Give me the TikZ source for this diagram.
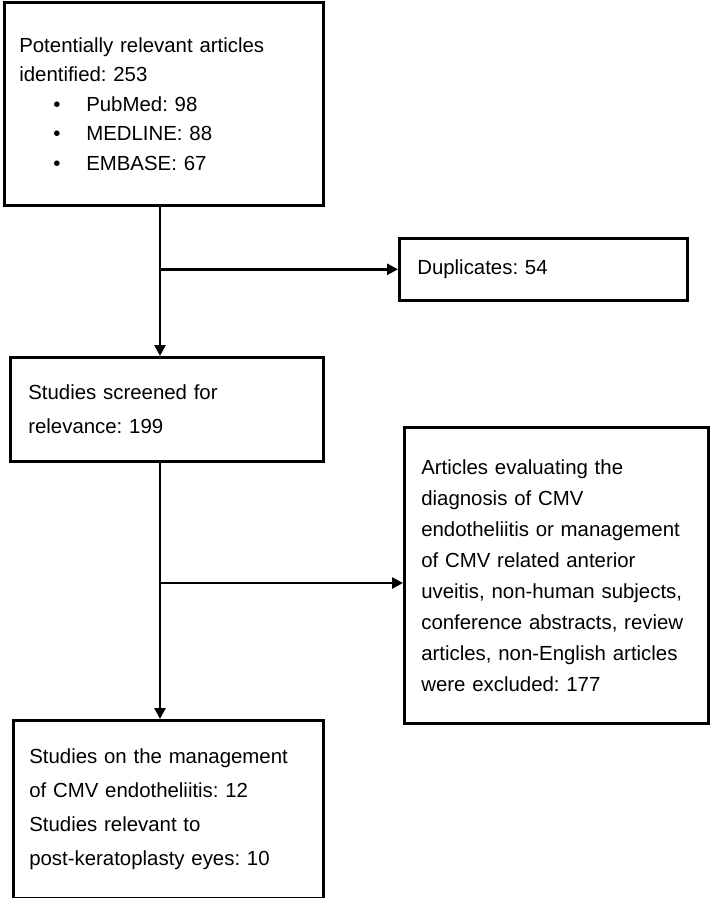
\documentclass[tikz,border=0pt]{standalone}
\usepackage{fontspec}
\setmainfont{Liberation Sans}
\usetikzlibrary{arrows.meta}
\frenchspacing
\newcommand\bitem[1]{\hspace*{34pt}\makebox[33pt][l]{•}#1}
\tikzset{
  fbox/.style={draw=black, line width=2.6pt, rectangle, anchor=north west, inner ysep=0pt, align=left},
  conn/.style={line width=2.6pt, draw=black},
  arr/.style={conn, -{Triangle[length=11pt,width=11pt]}},
}
\begin{document}
\begin{tikzpicture}[x=1pt,y=-1pt]
\useasboundingbox (0,0) rectangle (711,898);
\node[fbox, font=\fontsize{20.4}{29.5}\selectfont, inner xsep=15pt, minimum width=319pt, minimum height=203pt, text width=289pt] (b1) at (3,1)
  {Potentially relevant articles\\identified: 253\\\bitem{PubMed: 98}\\\bitem{MEDLINE: 88}\\\bitem{EMBASE: 67}};
\node[fbox, font=\fontsize{20.4}{31}\selectfont, inner xsep=18pt, minimum width=288pt, minimum height=62pt, text width=252pt] (b2) at (398,237)
  {Duplicates: 54};
\node[fbox, font=\fontsize{20.4}{34}\selectfont, inner xsep=18pt, minimum width=313pt, minimum height=104pt, text width=277pt] (b3) at (9,356)
  {Studies screened for\\relevance: 199};
\node[fbox, font=\fontsize{20.4}{31}\selectfont, inner xsep=17pt, minimum width=304pt, minimum height=296pt, text width=270pt] (b4) at (403,426)
  {Articles evaluating the\\diagnosis of CMV\\endotheliitis or management\\of CMV related anterior\\uveitis, non-human subjects,\\conference abstracts, review\\articles, non-English articles\\were excluded: 177};
\node[fbox, font=\fontsize{20.4}{34}\selectfont, inner xsep=16pt, minimum width=310pt, minimum height=178pt, text width=278pt] (b5) at (12,719)
  {Studies on the management\\of CMV endotheliitis: 12\\Studies relevant to\\post-keratoplasty eyes: 10};
\coordinate (s) at (160,0);
\coordinate (a2) at (0,583);
\draw[arr] (b1.south -| s) -- (b3.north -| s);
\draw[arr] (s |- b2.west) -- (b2.west);
\draw[arr] (b3.south -| s) -- (b5.north -| s);
\draw[arr] (s |- a2) -- (b4.west |- a2);
\end{tikzpicture}
\end{document}
